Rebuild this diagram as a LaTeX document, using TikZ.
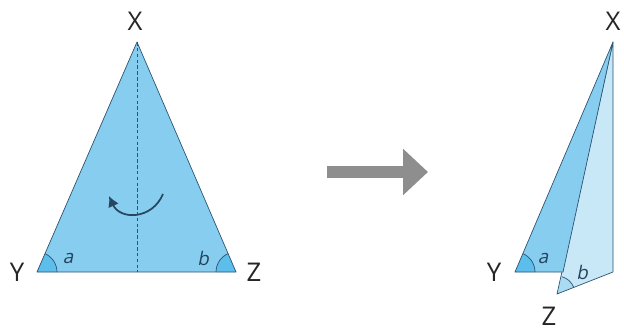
\documentclass[tikz,border=0pt]{standalone}
\usepackage{fontspec}
\setmainfont{Open Sans}
\newfontfamily\slantfont[FakeSlant=0.2]{Open Sans}
\usetikzlibrary{arrows.meta,angles}
\definecolor{SheetBlue}{HTML}{86CDF0}
\definecolor{AngleBlue}{HTML}{5DBDEB}
\definecolor{PaleBlue}{HTML}{C8E8F8}
\definecolor{PaleAngle}{HTML}{A9DBF3}
\definecolor{EdgeNavy}{HTML}{2E5470}
\definecolor{ArrowGray}{HTML}{8E8E8E}

\begin{document}
\begin{tikzpicture}[x=0.03cm, y=0.03cm,
  edge/.style={draw=EdgeNavy, line width=0.6pt, line join=round},
  vlabel/.style={font=\fontsize{22}{26}\selectfont, text=black!85, inner sep=0pt},
  alabel/.style={font=\fontsize{16}{19}\selectfont\slantfont, text=EdgeNavy!80!black, inner sep=0pt},
  ang/.style={draw=EdgeNavy, line width=0.6pt, angle radius=0.6cm},
  fold/.style={-{Latex[length=3.2mm,width=3.4mm]}, line width=1.5pt, EdgeNavy!85!black},
  bigarr/.style={-{Triangle[length=0.75cm,width=1.35cm]}, line width=0.36cm, ArrowGray}
]
\useasboundingbox (0,0) rectangle (624,332);
% left sheet
\coordinate (X1) at (137,290);
\coordinate (Y1) at (37,60);
\coordinate (Z1) at (236,60);
\coordinate (M1) at (137,60);
\fill[SheetBlue] (X1) -- (Y1) -- (Z1) -- cycle;
\pic[ang, fill=AngleBlue] {angle=Z1--Y1--X1};
\pic[ang, fill=AngleBlue] {angle=X1--Z1--Y1};
\draw[edge] (X1) -- (Y1) -- (Z1) -- cycle;
\draw[EdgeNavy, line width=0.6pt, dash pattern=on 3pt off 2pt] (X1) -- (M1);
\coordinate (f1) at (163,138);
\coordinate (f2) at (109,136);
\draw[fold] (f1) .. controls (152,112) and (120,112) .. (f2);
\node[vlabel] (lX1) at (135,311) {X};
\node[vlabel] (lY1) at (17,60) {Y};
\node[vlabel] (lZ1) at (254,60) {Z};
\node[alabel] (la1) at (68,74) {a};
\node[alabel] (lb1) at (203,74) {b};
% arrow
\coordinate (arrS) at (327,160);
\coordinate (arrE) at (428,160);
\draw[bigarr] (arrS) -- (arrE);
% folded sheet
\coordinate (X2) at (613,290);
\coordinate (Y2) at (515,60);
\coordinate (M2) at (563,60);
\coordinate (R2) at (613,60);
\coordinate (Z2) at (557,38);
\fill[PaleBlue] (X2) -- (R2) -- (Z2) -- cycle;
\pic[ang, fill=PaleAngle, angle radius=0.54cm] {angle=R2--Z2--M2};
\draw[edge] (X2) -- (R2) -- (Z2) -- cycle;
\fill[SheetBlue] (X2) -- (Y2) -- (M2) -- cycle;
\pic[ang, fill=AngleBlue] {angle=M2--Y2--X2};
\draw[edge] (X2) -- (Y2) -- (M2) -- cycle;
\node[vlabel] (lX2) at (613,311) {X};
\node[vlabel] (lY2) at (494,60) {Y};
\node[vlabel] (lZ2) at (549,16) {Z};
\node[alabel] (la2) at (543,74) {a};
\node[alabel] (lb2) at (582,60) {b};
\end{tikzpicture}
\end{document}
